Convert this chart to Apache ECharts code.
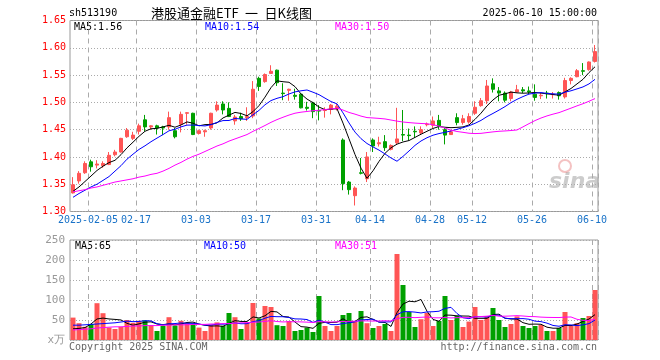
<!DOCTYPE html>
<html><head><meta charset="utf-8">
<script src="https://cdn.jsdelivr.net/npm/echarts@6/dist/echarts.min.js"></script>
<style>html,body{margin:0;padding:0;background:#fff}#c{width:660px;height:360px}</style>
</head><body><div id="c"></div>
<script>
const year = '2025';
const dates = ['01-23','01-24','01-27',
'02-05','02-06','02-07','02-10','02-11','02-12','02-13','02-14','02-17','02-18','02-19','02-20','02-21','02-24','02-25','02-26','02-27','02-28',
'03-03','03-04','03-05','03-06','03-07','03-10','03-11','03-12','03-13','03-14','03-17','03-18','03-19','03-20','03-21','03-24','03-25','03-26','03-27','03-28','03-31',
'04-01','04-02','04-03','04-07','04-08','04-09','04-10','04-11','04-14','04-15','04-16','04-17','04-18','04-21','04-22','04-23','04-24','04-25','04-28','04-29','04-30',
'05-06','05-07','05-08','05-09','05-12','05-13','05-14','05-15','05-16','05-19','05-20','05-21','05-22','05-23','05-26','05-27','05-28','05-29','05-30',
'06-03','06-04','06-05','06-06','06-09','06-10'];
const tickDates = ['02-05','02-17','03-03','03-17','03-31','04-14','04-28','05-12','05-26','06-10'];

const open  = [1.334,1.356,1.371,1.391,1.385,1.384,1.386,1.404,1.409,1.437,
1.434,1.447,1.468,1.455,1.457,1.455,1.455,1.448,1.460,1.480,
1.480,1.443,1.446,1.453,1.486,1.497,1.489,1.466,1.474,1.472,
1.475,1.544,1.538,1.553,1.559,1.517,1.522,1.513,1.515,1.491,
1.499,1.485,1.485,1.487,1.488,1.431,1.354,1.329,1.371,1.360,
1.431,1.424,1.428,1.414,1.426,1.441,1.440,1.447,1.444,1.459,
1.458,1.467,1.450,1.441,1.472,1.463,1.464,1.480,1.494,1.503,
1.534,1.521,1.517,1.507,1.519,1.523,1.521,1.515,1.512,1.517,
1.514,1.518,1.510,1.540,1.547,1.558,1.560,1.575];
const close = [1.349,1.370,1.388,1.382,1.387,1.388,1.403,1.409,1.434,1.449,
1.440,1.457,1.455,1.457,1.453,1.453,1.472,1.437,1.478,1.481,
1.441,1.448,1.448,1.480,1.495,1.486,1.474,1.473,1.470,1.474,
1.524,1.529,1.551,1.557,1.536,1.516,1.524,1.511,1.490,1.489,
1.483,1.484,1.487,1.495,1.493,1.351,1.340,1.343,1.370,1.400,
1.420,1.426,1.417,1.421,1.433,1.440,1.439,1.446,1.450,1.460,
1.466,1.456,1.440,1.446,1.463,1.470,1.474,1.491,1.503,1.530,
1.524,1.517,1.504,1.519,1.523,1.521,1.519,1.509,1.513,1.516,
1.515,1.512,1.540,1.544,1.558,1.557,1.574,1.593];
const low   = [1.333,1.351,1.369,1.373,1.379,1.380,1.385,1.401,1.408,1.435,
1.431,1.441,1.447,1.450,1.441,1.440,1.450,1.434,1.445,1.459,
1.440,1.441,1.437,1.450,1.483,1.478,1.473,1.459,1.466,1.466,
1.471,1.521,1.536,1.553,1.530,1.504,1.503,1.505,1.489,1.485,
1.471,1.467,1.472,1.478,1.485,1.339,1.331,1.311,1.368,1.354,
1.409,1.419,1.411,1.412,1.423,1.429,1.430,1.435,1.442,1.456,
1.453,1.450,1.423,1.441,1.458,1.459,1.461,1.477,1.492,1.497,
1.518,1.502,1.500,1.502,1.518,1.517,1.515,1.503,1.506,1.507,
1.507,1.505,1.507,1.533,1.546,1.550,1.558,1.573];
const high  = [1.363,1.374,1.392,1.395,1.394,1.392,1.409,1.413,1.435,1.453,
1.446,1.461,1.477,1.458,1.459,1.457,1.483,1.453,1.483,1.482,
1.481,1.450,1.450,1.481,1.502,1.502,1.500,1.477,1.481,1.491,
1.539,1.547,1.553,1.568,1.560,1.535,1.525,1.525,1.516,1.501,
1.501,1.495,1.491,1.497,1.497,1.434,1.356,1.346,1.398,1.409,
1.434,1.437,1.440,1.423,1.490,1.486,1.452,1.456,1.456,1.463,
1.474,1.477,1.453,1.449,1.480,1.477,1.480,1.502,1.508,1.541,
1.544,1.528,1.520,1.521,1.532,1.528,1.529,1.533,1.517,1.521,
1.519,1.520,1.545,1.546,1.561,1.572,1.575,1.605];
// volume (10k units)
const volume = [56,42,33,40,92,67,31,27.5,33,50,
43,48,49,37,22.5,36,57,36,48,42,
41,31,22.5,38,44,35.5,67.5,57,27.5,44,
92.5,54,85,82.5,37,35,47.5,22.5,25,31,
20,110,35,22.5,35,62.5,67.5,45,72.5,42,
30,35,40,22.5,215,137.5,70,32.5,52,67.5,
35,47.5,110,50,60,32.5,46,82.5,50,60,
80,50,32.5,40,59,35,30,35,37.5,22.5,
22.5,30,70,35,42,55,60,125];
// moving-average values at the start of the window (history not shown)
const ma5Head  = [1.337,1.345,1.355,1.365];
const ma10Head = [1.326,1.333,1.339,1.345,1.350,1.357,1.364,1.374,1.384];
const ma30Head = [1.336,1.338,1.340,1.343,1.345,1.348,1.351,1.354,1.356,1.358,1.360,1.363,1.365,1.368,1.370,1.374,1.379,1.385,1.390,1.396,1.401,1.405,1.410,1.415,1.420,1.424,1.429,1.433,1.437];
const vma5Head  = [28,29,31,40];
const vma10Head = [37,37,38,39,40,41,42,43,45];
const vma30Head = [25,26,27,28,30,31,32,33,33,34,35,35,36,36,36,37,37,38,38,38,39,39,39,40,40,41,41,42,43];
const legendPrice = ['MA5:1.56','MA10:1.54','MA30:1.50'];
const legendVol = ['MA5:65','MA10:50','MA30:51'];

function movingAvg(src, n, head, dp) {
  return src.map((v, i) => {
    if (i < n - 1) return head[i];
    let s = 0; for (let k = i - n + 1; k <= i; k++) s += src[k];
    return +(s / n).toFixed(dp);
  });
}
const RED = '#ff5555', GREEN = '#00a000';
const kData = dates.map((d, i) => [open[i], close[i], low[i], high[i]]);
const volData = volume.map((v, i) => ({ value: v, itemStyle: { color: close[i] >= open[i] ? RED : GREEN } }));
const tickSet = new Set(tickDates);
const MONO = '"DejaVu Sans Mono", monospace';

const chart = echarts.init(document.getElementById('c'), null, { renderer: 'canvas' });
const xCommon = (gi, showLabel) => ({
  type: 'category', gridIndex: gi, data: dates, boundaryGap: true,
  axisLine: { show: false }, axisTick: { show: false },
  axisLabel: {
    show: showLabel, interval: (i) => tickSet.has(dates[i]),
    formatter: (v) => v === tickDates[0] ? year + '-' + v : v,
    color: '#1a73c8', fontFamily: MONO, fontSize: 10, margin: 4, padding: [0, 6, 0, 0]
  },
  splitLine: { show: true, interval: (i) => tickSet.has(dates[i]), lineStyle: { color: '#aaaaaa', type: [5, 4], width: 1 } }
});
const lineS = (data, color, xi, yi) => ({ type: 'line', data, xAxisIndex: xi, yAxisIndex: yi, symbol: 'none', silent: true,
  lineStyle: { color, width: 1 }, itemStyle: { color }, animation: false });

const t = (x, y, text, fill, font, align) => ({ type: 'text', x, y, silent: true,
  style: { text, fill, font: font || ('10px ' + MONO), align: align || 'left', verticalAlign: 'middle' } });

chart.setOption({
  animation: false,
  backgroundColor: '#ffffff',
  grid: [
    { left: 70, top: 20.5, width: 528, height: 191, show: true, borderColor: '#999', borderWidth: 1, outerBoundsMode: 'none' },
    { left: 70, top: 240, width: 528, height: 100, show: true, borderColor: '#999', borderWidth: 1, outerBoundsMode: 'none' }
  ],
  xAxis: [xCommon(0, true), xCommon(1, false)],
  yAxis: [
    { type: 'value', gridIndex: 0, min: 1.30, max: 1.65, interval: 0.05, scale: true,
      axisLine: { show: false }, axisTick: { show: false },
      axisLabel: { color: '#ff0000', fontFamily: MONO, fontSize: 10, margin: 4, formatter: (v) => v.toFixed(2) },
      splitLine: { lineStyle: { color: '#aaaaaa', type: [1, 2], width: 1 } } },
    { type: 'value', gridIndex: 1, min: 0, max: 250, interval: 50,
      axisLine: { show: false }, axisTick: { show: false },
      axisLabel: { color: '#999999', fontFamily: MONO, fontSize: 11, margin: 5, formatter: (v) => v === 0 ? 'x万' : String(v) },
      splitLine: { lineStyle: { color: '#aaaaaa', type: [1, 2], width: 1 } } }
  ],
  series: [
    { type: 'candlestick', data: kData, xAxisIndex: 0, yAxisIndex: 0, barWidth: 4, silent: true,
      itemStyle: { color: RED, color0: GREEN, borderColor: RED, borderColor0: GREEN, borderWidth: 1 } },
    lineS(movingAvg(close, 5, ma5Head, 4), '#000000', 0, 0),
    lineS(movingAvg(close, 10, ma10Head, 4), '#0000ff', 0, 0),
    lineS(movingAvg(close, 30, ma30Head, 4), '#ff00ff', 0, 0),
    { type: 'bar', data: volData, xAxisIndex: 1, yAxisIndex: 1, barWidth: 5, silent: true },
    lineS(movingAvg(volume, 5, vma5Head, 2), '#000000', 1, 1),
    lineS(movingAvg(volume, 10, vma10Head, 2), '#0000ff', 1, 1),
    lineS(movingAvg(volume, 30, vma30Head, 2), '#ff00ff', 1, 1)
  ],
  graphic: [
    t(69, 13, 'sh513190', '#000'),
    t(151, 13, '港股通金融ETF\u2002一\u2002日K线图', '#000', '13px "Noto Sans CJK SC"'),
    t(597, 13, year + '-06-10 15:00:00', '#000', null, 'right'),
    t(74, 27, legendPrice[0], '#000'),
    t(205, 27, legendPrice[1], '#0000ff'),
    t(335, 27, legendPrice[2], '#ff00ff'),
    t(75, 246, legendVol[0], '#000'),
    t(204, 246, legendVol[1], '#0000ff'),
    t(335, 246, legendVol[2], '#ff00ff'),
    t(69, 347, 'Copyright 2025 SINA.COM', '#666'),
    t(597, 347, 'http://finance.sina.com.cn', '#666', null, 'right'),
    { type: 'text', x: 549, y: 182, silent: true, style: { text: 'sina', fill: 'rgba(170,170,170,0.6)', font: 'italic bold 22px "DejaVu Sans"', verticalAlign: 'middle' } },
    { type: 'circle', shape: { cx: 565, cy: 166, r: 6 }, silent: true, style: { fill: 'none', stroke: 'rgba(230,120,120,0.45)', lineWidth: 2 } }
  ]
});
</script></body></html>
